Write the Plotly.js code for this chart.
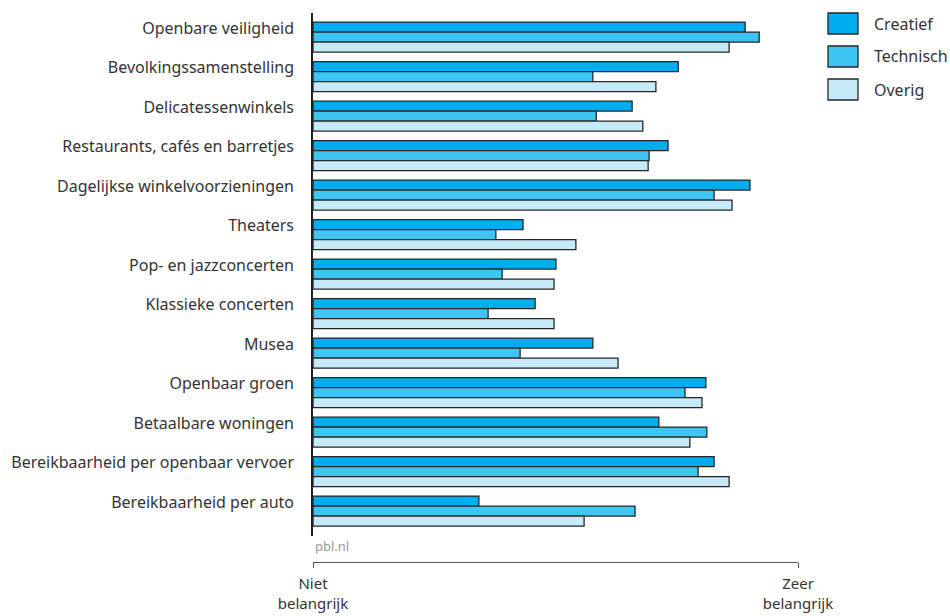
<!DOCTYPE html>
<html>
<head>
<meta charset="utf-8">
<script src="https://cdn.plot.ly/plotly-3.0.1.min.js"></script>
<style>
html,body{margin:0;padding:0;background:#fff;}
#chart{width:950px;height:616px;}
</style>
</head>
<body>
<div id="chart"></div>
<script>
// ---- data ----
const categories = [
  "Openbare veiligheid",
  "Bevolkingssamenstelling",
  "Delicatessenwinkels",
  "Restaurants, cafés en barretjes",
  "Dagelijkse winkelvoorzieningen",
  "Theaters",
  "Pop- en jazzconcerten",
  "Klassieke concerten",
  "Musea",
  "Openbaar groen",
  "Betaalbare woningen",
  "Bereikbaarheid per openbaar vervoer",
  "Bereikbaarheid per auto"
];
const seriesNames = ["Creatief", "Technisch", "Overig"];
const creatief  = [89.1, 75.3, 65.8, 73.2, 90.1, 43.3, 50.1, 45.8, 57.7, 81.0, 71.3, 82.7, 34.2];
const technisch = [92.0, 57.7, 58.4, 69.3, 82.7, 37.7, 39.0, 36.1, 42.7, 76.7, 81.2, 79.4, 66.4];
const overig    = [85.8, 70.7, 68.0, 69.1, 86.4, 54.2, 49.7, 49.7, 62.9, 80.2, 77.7, 85.8, 55.9];
const scaleTickVals = [0, 100];
const scaleTickText = ["Niet<br>belangrijk", "Zeer<br>belangrijk"];
const sourceText = "pbl.nl";

// ---- style ----
const colors = ["#00adef", "#3ec6f3", "#c7eaf9"];
const outline = "#262626";
const FONT = "Noto Sans, Open Sans, sans-serif";
const W = 950, H = 616;
const M = {l: 313, r: 152, t: 13, b: 54};
const plotH = H - M.t - M.b;
const plotW = W - M.l - M.r;
const px2x = p => (p - M.l) / plotW;
const px2y = p => (H - M.b - p) / plotH;

const values = [creatief, technisch, overig];
const traces = values.map((v, i) => ({
  type: "bar",
  orientation: "h",
  name: seriesNames[i],
  x: v,
  y: categories,
  marker: {color: colors[i], line: {color: outline, width: 1.3}},
  hoverinfo: "x+y+name",
  showlegend: false
}));
// label carrier for the (slightly raised) category labels
traces.push({
  type: "scatter", mode: "markers",
  x: categories.map(() => 0), y: categories,
  yaxis: "y2",
  marker: {opacity: 0, size: 1},
  hoverinfo: "skip", showlegend: false
});

const shapes = [];
const annotations = [];
seriesNames.forEach((n, i) => {
  const top = 13 + i * 33;
  shapes.push({
    type: "rect", xref: "paper", yref: "paper",
    x0: px2x(828), x1: px2x(858), y0: px2y(top + 21), y1: px2y(top),
    fillcolor: colors[i], line: {color: outline, width: 1.3}
  });
  annotations.push({
    xref: "paper", yref: "paper", x: px2x(872), y: px2y(top + 10.5),
    xanchor: "left", yanchor: "middle", showarrow: false,
    text: n, font: {family: FONT, size: 16, color: "#333"}
  });
});
annotations.push({
  xref: "paper", yref: "paper", x: px2x(313), y: px2y(546),
  xanchor: "left", yanchor: "middle", showarrow: false,
  text: sourceText, font: {family: FONT, size: 13, color: "#999"}
});

const yRange = [12.63, -0.61];
const labelShift = 0.23;

const layout = {
  width: W, height: H,
  margin: M,
  paper_bgcolor: "#fff", plot_bgcolor: "#fff",
  barmode: "group",
  bargap: 0.24, bargroupgap: 0,
  font: {family: FONT, size: 16, color: "#333"},
  xaxis: {
    range: [0, 100],
    anchor: "free", position: 0,
    showgrid: false, zeroline: false,
    showline: true, linecolor: "#555", linewidth: 1,
    ticks: "outside", ticklen: 5, tickcolor: "#555", tickwidth: 1,
    tickmode: "array", tickvals: scaleTickVals, ticktext: scaleTickText,
    ticklabelstandoff: 3,
    tickfont: {family: FONT, size: 15, color: "#333"},
    fixedrange: true
  },
  yaxis: {
    type: "category",
    categoryorder: "array", categoryarray: categories,
    domain: [px2y(536), 1],
    range: yRange,
    showgrid: false, zeroline: false,
    showline: true, linecolor: "#222", linewidth: 2,
    ticks: "", showticklabels: false,
    fixedrange: true
  },
  yaxis2: {
    type: "category",
    categoryorder: "array", categoryarray: categories,
    overlaying: "y", anchor: "x", side: "left",
    domain: [px2y(536), 1],
    range: [yRange[0] + labelShift, yRange[1] + labelShift],
    showgrid: false, zeroline: false, showline: false,
    ticks: "", ticklabelstandoff: 18,
    tickfont: {family: FONT, size: 16, color: "#333"},
    fixedrange: true
  },
  shapes: shapes,
  annotations: annotations
};

Plotly.newPlot("chart", traces, layout, {displayModeBar: false});
</script>
</body>
</html>
